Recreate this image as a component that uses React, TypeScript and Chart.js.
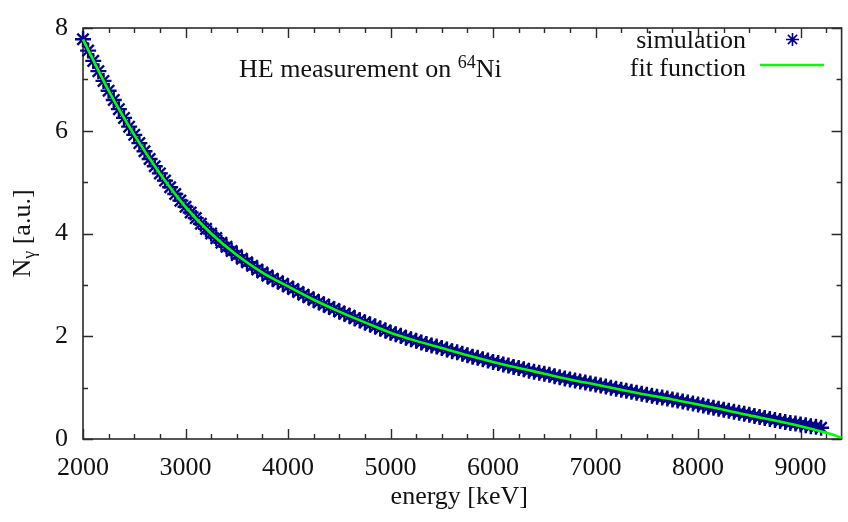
import React, { useEffect, useRef } from 'react';
import { Chart, registerables } from 'chart.js';

Chart.register(...registerables);

// ---------- data ----------
const simEnergy = [
  2000, 2050, 2100, 2150, 2200, 2250, 2300, 2350, 2400, 2450,
  2500, 2550, 2600, 2650, 2700, 2750, 2800, 2850, 2900, 2950,
  3000, 3050, 3100, 3150, 3200, 3250, 3300, 3350, 3400, 3450,
  3500, 3550, 3600, 3650, 3700, 3750, 3800, 3850, 3900, 3950,
  4000, 4050, 4100, 4150, 4200, 4250, 4300, 4350, 4400, 4450,
  4500, 4550, 4600, 4650, 4700, 4750, 4800, 4850, 4900, 4950,
  5000, 5050, 5100, 5150, 5200, 5250, 5300, 5350, 5400, 5450,
  5500, 5550, 5600, 5650, 5700, 5750, 5800, 5850, 5900, 5950,
  6000, 6050, 6100, 6150, 6200, 6250, 6300, 6350, 6400, 6450,
  6500, 6550, 6600, 6650, 6700, 6750, 6800, 6850, 6900, 6950,
  7000, 7050, 7100, 7150, 7200, 7250, 7300, 7350, 7400, 7450,
  7500, 7550, 7600, 7650, 7700, 7750, 7800, 7850, 7900, 7950,
  8000, 8050, 8100, 8150, 8200, 8250, 8300, 8350, 8400, 8450,
  8500, 8550, 8600, 8650, 8700, 8750, 8800, 8850, 8900, 8950,
  9000, 9050, 9100, 9150, 9200,
];

const simCounts = [
  7.78, 7.56, 7.36, 7.16, 6.97, 6.78, 6.60, 6.42, 6.25, 6.08,
  5.92, 5.76, 5.60, 5.45, 5.31, 5.17, 5.03, 4.90, 4.77, 4.64,
  4.52, 4.41, 4.30, 4.19, 4.09, 4.00, 3.91, 3.82, 3.74, 3.66,
  3.58, 3.51, 3.44, 3.37, 3.30, 3.24, 3.18, 3.12, 3.07, 3.02,
  2.97, 2.92, 2.86, 2.81, 2.76, 2.71, 2.66, 2.62, 2.57, 2.53,
  2.48, 2.44, 2.40, 2.35, 2.31, 2.27, 2.23, 2.19, 2.15, 2.11,
  2.07, 2.04, 2.01, 1.97, 1.94, 1.91, 1.88, 1.85, 1.82, 1.80,
  1.77, 1.74, 1.71, 1.69, 1.66, 1.63, 1.60, 1.58, 1.55, 1.53,
  1.50, 1.48, 1.45, 1.43, 1.40, 1.38, 1.36, 1.33, 1.31, 1.29,
  1.27, 1.25, 1.22, 1.20, 1.18, 1.16, 1.14, 1.12, 1.10, 1.08,
  1.06, 1.04, 1.02, 1.00, 0.98, 0.96, 0.94, 0.92, 0.90, 0.88,
  0.86, 0.84, 0.82, 0.81, 0.79, 0.77, 0.75, 0.73, 0.71, 0.69,
  0.67, 0.65, 0.63, 0.61, 0.59, 0.57, 0.55, 0.53, 0.51, 0.49,
  0.47, 0.45, 0.43, 0.41, 0.39, 0.37, 0.35, 0.33, 0.31, 0.30,
  0.28, 0.27, 0.25, 0.24, 0.22,
];

const fitEnergy = [
  2000, 2250, 2500, 2750, 3000, 3250, 3500, 3750, 4000, 4250,
  4500, 4750, 5000, 5250, 5500, 5750, 6000, 6250, 6500, 6750,
  7000, 7250, 7500, 7750, 8000, 8250, 8500, 8750, 9000, 9250, 9400,
];
const fitCounts = [
  7.78, 6.78, 5.92, 5.17, 4.52, 4.00, 3.58, 3.24, 2.97, 2.71,
  2.48, 2.27, 2.07, 1.91, 1.77, 1.63, 1.50, 1.38, 1.27, 1.16,
  1.06, 0.96, 0.86, 0.77, 0.67, 0.57, 0.46, 0.36, 0.25, 0.12, 0.03,
];

const xTickLabels = [2000, 3000, 4000, 5000, 6000, 7000, 8000, 9000];
const yTickLabels = [0, 2, 4, 6, 8];
const xMinorStep = 250;
const yMinorStep = 1;
const X_MIN = 2000;
const X_MAX = 9400;
const Y_MIN = 0;
const Y_MAX = 8;

const titleText = 'HE measurement on ';
const titleSup = '64';
const titleEnd = 'Ni';
const xAxisTitle = 'energy [keV]';
const yAxisMain = 'N';
const yAxisSub = 'γ';
const yAxisRest = ' [a.u.]';
const legendSim = 'simulation';
const legendFit = 'fit function';

// ---------- styles ----------
const FONT_FAMILY = "'Liberation Serif', 'Times New Roman', serif";
const TEXT_COLOR = '#111111';
const AXIS_COLOR = '#2b2b2b';
const SIM_COLOR = '#00008b';
const FIT_COLOR = '#00ff00';

function drawStar(ctx: CanvasRenderingContext2D, x: number, y: number, r: number) {
  const d = r * Math.SQRT1_2;
  ctx.beginPath();
  ctx.moveTo(x - r, y);
  ctx.lineTo(x + r, y);
  ctx.moveTo(x, y - r);
  ctx.lineTo(x, y + r);
  ctx.moveTo(x - d, y - d);
  ctx.lineTo(x + d, y + d);
  ctx.moveTo(x - d, y + d);
  ctx.lineTo(x + d, y - d);
  ctx.stroke();
}

const framePlugin = {
  id: 'gnuFrame',
  beforeDatasetsDraw(chart: any) {
    const { ctx, chartArea: a, scales } = chart;
    const xs = scales.x;
    const ys = scales.y;
    ctx.save();
    ctx.strokeStyle = AXIS_COLOR;
    ctx.lineWidth = 1.6;
    ctx.strokeRect(a.left, a.top, a.right - a.left, a.bottom - a.top);
    ctx.beginPath();
    for (let v = X_MIN; v <= X_MAX + 1e-6; v += xMinorStep) {
      const px = Math.round(xs.getPixelForValue(v)) + 0.5;
      const len = v % 1000 === 0 ? 10 : 5;
      ctx.moveTo(px, a.bottom);
      ctx.lineTo(px, a.bottom - len);
      ctx.moveTo(px, a.top);
      ctx.lineTo(px, a.top + len);
    }
    for (let v = Y_MIN; v <= Y_MAX + 1e-6; v += yMinorStep) {
      const py = Math.round(ys.getPixelForValue(v)) + 0.5;
      const len = v % 2 === 0 ? 10 : 5;
      ctx.moveTo(a.left, py);
      ctx.lineTo(a.left + len, py);
      ctx.moveTo(a.right, py);
      ctx.lineTo(a.right - len, py);
    }
    ctx.lineWidth = 1.4;
    ctx.stroke();
    ctx.restore();
  },
  afterDraw(chart: any) {
    const { ctx, chartArea: a } = chart;
    ctx.save();
    ctx.fillStyle = TEXT_COLOR;
    ctx.textBaseline = 'alphabetic';
    const big = `26px ${FONT_FAMILY}`;
    const small = `18px ${FONT_FAMILY}`;

    // x axis title
    ctx.font = big;
    ctx.textAlign = 'center';
    ctx.fillText(xAxisTitle, (a.left + a.right) / 2 - 3, 504);

    // y axis title (rotated)
    ctx.textAlign = 'left';
    ctx.font = big;
    const w1 = ctx.measureText(yAxisMain).width;
    const w3 = ctx.measureText(yAxisRest).width;
    ctx.font = small;
    const w2 = ctx.measureText(yAxisSub).width;
    ctx.save();
    ctx.translate(30, (a.top + a.bottom) / 2);
    ctx.rotate(-Math.PI / 2);
    let x0 = -(w1 + w2 + w3) / 2;
    ctx.font = big;
    ctx.fillText(yAxisMain, x0, 0);
    ctx.font = small;
    ctx.fillText(yAxisSub, x0 + w1, 5);
    ctx.font = big;
    ctx.fillText(yAxisRest, x0 + w1 + w2, 0);
    ctx.restore();

    // annotation
    ctx.textAlign = 'left';
    ctx.font = big;
    let tx = 239;
    ctx.fillText(titleText, tx, 77);
    tx += ctx.measureText(titleText).width;
    ctx.font = small;
    ctx.fillText(titleSup, tx, 68);
    tx += ctx.measureText(titleSup).width;
    ctx.font = big;
    ctx.fillText(titleEnd, tx, 77);

    // legend
    ctx.textAlign = 'right';
    ctx.font = big;
    ctx.fillText(legendSim, 746, 48);
    ctx.fillText(legendFit, 746, 76);
    ctx.strokeStyle = SIM_COLOR;
    ctx.lineWidth = 1.6;
    drawStar(ctx, 792.5, 39.5, 6.5);
    ctx.strokeStyle = FIT_COLOR;
    ctx.lineWidth = 2.6;
    ctx.beginPath();
    ctx.moveTo(760, 65);
    ctx.lineTo(824, 65);
    ctx.stroke();
    ctx.restore();
  },
};

export default function App() {
  const canvasRef = useRef<HTMLCanvasElement | null>(null);

  useEffect(() => {
    const canvas = canvasRef.current;
    if (!canvas) return;
    const tickFont = { family: FONT_FAMILY, size: 26, lineHeight: 1 };
    const chart = new Chart(canvas, {
      type: 'scatter',
      data: {
        datasets: [
          {
            label: legendFit,
            data: fitEnergy.map((e, i) => ({ x: e, y: fitCounts[i] })),
            showLine: true,
            borderColor: FIT_COLOR,
            backgroundColor: FIT_COLOR,
            borderWidth: 2.6,
            pointRadius: 0,
            cubicInterpolationMode: 'monotone',
            order: 0,
            clip: false,
          } as any,
          {
            label: legendSim,
            data: simEnergy.map((e, i) => ({ x: e, y: simCounts[i] })),
            showLine: false,
            pointStyle: 'star',
            pointRadius: 8,
            pointBorderWidth: 2.4,
            borderColor: SIM_COLOR,
            backgroundColor: SIM_COLOR,
            order: 1,
            clip: false,
          } as any,
        ],
      },
      options: {
        responsive: false,
        animation: false,
        events: [],
        layout: { padding: { top: 15, right: 2, left: 0, bottom: 0 } },
        plugins: {
          legend: { display: false },
          tooltip: { enabled: false },
          title: { display: false },
        },
        scales: {
          x: {
            type: 'linear',
            min: X_MIN,
            max: X_MAX,
            grid: { display: false, drawTicks: false },
            border: { display: false },
            afterBuildTicks: (s: any) => {
              s.ticks = xTickLabels.map((v) => ({ value: v }));
            },
            afterFit: (s: any) => {
              s.height = 83;
            },
            ticks: {
              font: tickFont,
              color: TEXT_COLOR,
              padding: 16,
              maxRotation: 0,
              autoSkip: false,
              callback: (v: any) => String(v),
            },
          },
          y: {
            type: 'linear',
            min: Y_MIN,
            max: Y_MAX,
            grid: { display: false, drawTicks: false },
            border: { display: false },
            afterBuildTicks: (s: any) => {
              s.ticks = yTickLabels.map((v) => ({ value: v }));
            },
            afterFit: (s: any) => {
              s.width = 83;
            },
            ticks: {
              font: tickFont,
              color: TEXT_COLOR,
              padding: 15,
              autoSkip: false,
              callback: (v: any) => String(v),
            },
          },
        },
      } as any,
      plugins: [framePlugin],
    });
    return () => chart.destroy();
  }, []);

  return (
    <div style={{ position: 'fixed', left: 0, top: 0, width: 852, height: 522, background: '#ffffff' }}>
      <canvas ref={canvasRef} width={852} height={522} style={{ display: 'block' }} />
    </div>
  );
}
